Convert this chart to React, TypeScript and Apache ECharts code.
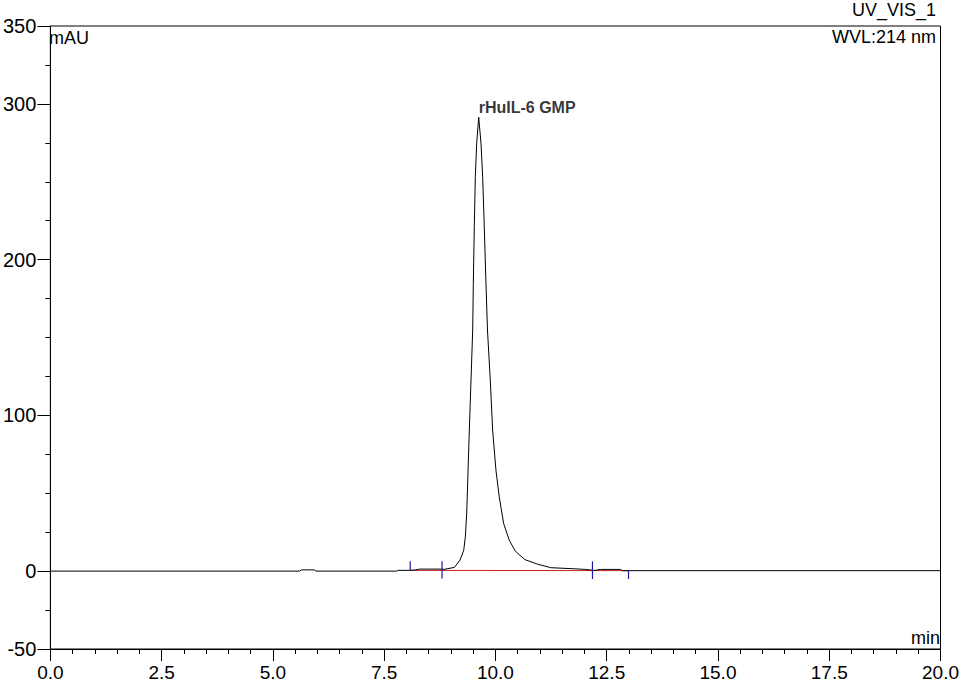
import React, { useEffect, useRef } from "react";
import * as echarts from "echarts";

// Chromatogram trace: retention time (min) and absorbance (mAU)
const TIME_MIN = [
  0, 5.6, 5.64, 5.93, 5.97, 7.78, 7.81, 8.08, 8.2, 8.29, 8.78, 8.846, 9.077, 9.205,
  9.288, 9.324, 9.355, 9.378, 9.413, 9.451, 9.489, 9.503, 9.525, 9.548, 9.579,
  9.624, 9.675, 9.713, 9.749, 9.787, 9.821, 9.884, 9.937, 10.011, 10.085, 10.184,
  10.309, 10.448, 10.661, 10.945, 11.243, 11.765, 12.027, 12.177, 12.22, 12.36,
  12.81, 12.85, 20,
];
const SIGNAL_MAU = [
  0, 0, 0.8, 0.8, 0, 0, 0.5, 0.5, 0.7, 1.3, 1.3, 1.1, 2.4, 7.1,
  13.5, 22.0, 37.3, 58.5, 90.6, 122.7, 154.8, 184.8, 221.2, 253.3, 274.8,
  291.4, 274.9, 253.3, 221.2, 185.0, 154.8, 122.7, 90.6, 64.9, 47.7, 30.6,
  19.9, 12.8, 7.4, 4.5, 2.2, 1.5, 1.1, 0.6, 0.4, 1.1,
  1.1, 0.3, 0.3,
];

// Integration baseline (red)
const BASELINE_T = [8.085, 12.99];
const BASELINE_V = [0.5, 0.3];

// Peak start/end markers (blue)
const MARKER_T = [8.085, 8.8, 12.18, 12.99];
const MARKER_TOP = [6.4, 6.4, 6.4, 0.6];
const MARKER_BOTTOM = [0.5, -4.7, -5.1, -5.1];

// Peak annotation
const PEAK_NAME = "rHuIL-6 GMP";
const PEAK_T = 9.624;
const PEAK_V = 291.4;

// Axis tick labels
const Y_LABELS = [-50, 0, 100, 200, 300, 350];

const FONT = "'Liberation Sans', Arial, sans-serif";

export default function App() {
  const ref = useRef<HTMLDivElement>(null);

  useEffect(() => {
    if (!ref.current) return;
    const chart = echarts.init(ref.current, undefined, { renderer: "svg" });

    const trace = TIME_MIN.map((t, i) => [t, SIGNAL_MAU[i]]);
    const baseline = BASELINE_T.map((t, i) => [t, BASELINE_V[i]]);
    const markerSeries = MARKER_T.map((t, i) => ({
      type: "line",
      data: [
        [t, MARKER_TOP[i]],
        [t, MARKER_BOTTOM[i]],
      ],
      symbol: "none",
      silent: true,
      z: 5,
      lineStyle: { color: "#1a1aa6", width: 1.2 },
    }));

    chart.setOption({
      animation: false,
      backgroundColor: "#ffffff",
      grid: {
        left: 48,
        right: 21,
        top: 26,
        bottom: 40,
        show: true,
        borderColor: "#000",
        borderWidth: 1,
        backgroundColor: "transparent",
      },
      xAxis: {
        type: "value",
        min: 0,
        max: 20,
        interval: 2.5,
        axisLine: { show: true, onZero: false, lineStyle: { color: "#000", width: 1 } },
        axisTick: { show: true, length: 12, lineStyle: { color: "#000", width: 1 } },
        minorTick: { show: true, splitNumber: 5, length: 5, lineStyle: { color: "#000", width: 1 } },
        splitLine: { show: false },
        minorSplitLine: { show: false },
        axisLabel: {
          color: "#000",
          fontSize: 19,
          fontFamily: FONT,
          margin: 14,
          showMinLabel: true,
          showMaxLabel: true,
          hideOverlap: false,
          formatter: (v: number) => v.toFixed(1),
        },
      },
      yAxis: [
        {
          type: "value",
          min: -50,
          max: 350,
          interval: 50,
          position: "left",
          axisLine: { show: true, onZero: false, lineStyle: { color: "#000", width: 1 } },
          axisTick: {
            show: true,
            length: 13,
            customValues: Y_LABELS,
            lineStyle: { color: "#000", width: 1 },
          },
          splitLine: { show: false },
          axisLabel: {
            color: "#000",
            fontSize: 20,
            fontFamily: FONT,
            margin: 14,
            customValues: Y_LABELS,
            showMinLabel: true,
            showMaxLabel: true,
          },
        },
        {
          type: "value",
          min: -50,
          max: 350,
          interval: 25,
          position: "left",
          offset: 0,
          axisLine: { show: false, onZero: false },
          axisTick: { show: true, length: 5, lineStyle: { color: "#000", width: 1 } },
          axisLabel: { show: false },
          splitLine: { show: false },
        },
      ],
      series: [
        {
          type: "line",
          data: baseline,
          symbol: "none",
          silent: true,
          z: 2,
          lineStyle: { color: "#cc1f1f", width: 1 },
        },
        {
          type: "line",
          data: trace,
          symbol: "none",
          silent: true,
          z: 3,
          lineStyle: { color: "#000", width: 1 },
        },
        {
          type: "scatter",
          data: [[PEAK_T, PEAK_V]],
          symbolSize: 0,
          silent: true,
          z: 6,
          label: {
            show: true,
            position: "top",
            distance: 2,
            align: "left",
            formatter: PEAK_NAME,
            color: "#000",
            fontSize: 16,
            fontWeight: "bold",
            fontFamily: FONT,
          },
        },
        ...markerSeries,
      ],
      graphic: [
        {
          type: "text",
          right: 26,
          top: 1,
          style: { text: "UV_VIS_1", fill: "#000", fontSize: 18, fontFamily: FONT },
        },
        {
          type: "text",
          right: 26,
          top: 28,
          style: { text: "WVL:214 nm", fill: "#000", fontSize: 18, fontFamily: FONT },
        },
        {
          type: "text",
          left: 49,
          top: 29,
          style: { text: "mAU", fill: "#000", fontSize: 18, fontFamily: FONT },
        },
        {
          type: "text",
          right: 22,
          top: 629,
          style: { text: "min", fill: "#000", fontSize: 18, fontFamily: FONT },
        },
      ],
    });

    return () => chart.dispose();
  }, []);

  return (
    <div
      ref={ref}
      style={{ position: "fixed", left: 0, top: 0, width: 962, height: 689 }}
    />
  );
}
